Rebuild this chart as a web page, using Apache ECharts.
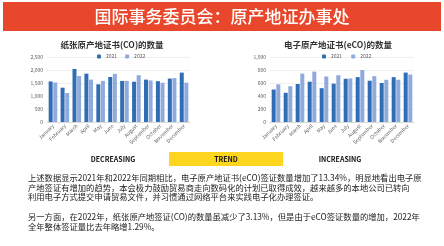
<!DOCTYPE html>
<html>
	<head>
		<meta charset="utf-8" />
		<title>原产地证办事处</title>
		<script src="https://cdn.jsdelivr.net/npm/echarts@6/dist/echarts.min.js"></script>
		<style>
			html, body { margin: 0; padding: 0; background: #fff; }
			#main { width: 444px; height: 246px; }
		</style>
	</head>
	<body>
		<div id="main"></div>
		<script type="text/javascript">
			// 数据
			var months = ['January', 'February', 'March', 'April', 'May', 'June', 'July', 'August', 'September', 'October', 'November', 'December'];
			var co2021 = [1560, 1320, 2040, 1860, 1450, 1730, 1580, 1550, 1630, 1570, 1670, 1900];
			var co2022 = [1520, 1115, 1770, 1630, 1580, 1850, 1580, 1800, 1600, 1510, 1690, 1510];
			var eco2021 = [500, 450, 585, 620, 520, 590, 665, 690, 635, 600, 690, 760];
			var eco2022 = [580, 550, 745, 775, 700, 720, 670, 800, 705, 650, 650, 730];
			var coTicks = [0, 500, 1000, 1500, 2000, 2500];
			var ecoTicks = [0, 200, 400, 600, 800, 1000];

			var para = [
				'上述数据显示2021年和2022年同期相比，电子原产地证书(eCO)签证数量增加了13.34%，明显地看出电子原',
				'产地签证有增加的趋势，本会极力鼓励贸易商走向数码化的计划已取得成效，越来越多的本地公司已转向',
				'利用电子方式提交申请贸易文件，并习惯通过网络平台来实践电子化办理签证。',
				'',
				'另一方面，在2022年，纸张原产地签证(CO)的数量虽减少了3.13%，但是由于eCO签证数量的增加，2022年',
				'全年整体签证量比去年略增1.29%。'
			];

			var font = '"Noto Sans CJK SC", "Noto Sans", sans-serif';
			var c2021 = '#2F6DB5';
			var c2022 = '#8FAADC';

			var myChart = echarts.init(document.getElementById('main'));

			function xAxisOf(idx) {
				return {
					type: 'category', gridIndex: idx, data: months,
					axisTick: {show: false},
					axisLine: {lineStyle: {color: '#d9d9d9'}},
					axisLabel: {rotate: 45, fontSize: 5, color: '#595959', fontFamily: font, margin: 3, interval: 0}
				};
			}
			function yAxisOf(idx, ticks) {
				return {
					type: 'value', gridIndex: idx, min: ticks[0], max: ticks[ticks.length - 1],
					interval: ticks[1] - ticks[0],
					axisLine: {show: false}, axisTick: {show: false},
					splitLine: {lineStyle: {color: '#e6e6e6', width: 0.6}},
					axisLabel: {fontSize: 5, color: '#595959', fontFamily: font, margin: 4}
				};
			}
			function barOf(name, idx, data, color) {
				return {
					name: name, type: 'bar', xAxisIndex: idx, yAxisIndex: idx, data: data,
					barGap: '15%', barCategoryGap: '28%',
					itemStyle: {color: color}
				};
			}

			var graphics = [
				{type: 'rect', shape: {x: 3, y: 2, width: 438, height: 29}, style: {fill: '#E9472B'}},
				{type: 'text', x: 222, y: 17, style: {text: '国际事务委员会：原产地证办事处', fill: '#fff', font: '500 17px ' + font, textAlign: 'center', textVerticalAlign: 'middle'}},
				{type: 'text', x: 113, y: 159, style: {text: 'DECREASING', fill: '#111', font: 'bold 7px ' + font, textAlign: 'center', textVerticalAlign: 'middle'}},
				{type: 'rect', shape: {x: 169, y: 152, width: 114, height: 14}, style: {fill: '#FFD61F'}},
				{type: 'text', x: 226, y: 159, style: {text: 'TREND', fill: '#111', font: 'bold 7px ' + font, textAlign: 'center', textVerticalAlign: 'middle'}},
				{type: 'text', x: 340, y: 159, style: {text: 'INCREASING', fill: '#111', font: 'bold 7px ' + font, textAlign: 'center', textVerticalAlign: 'middle'}}
			];
			var lineY = [178, 188, 197, 207, 217, 227];
			for (var i = 0; i < para.length; i++) {
				if (!para[i]) continue;
				graphics.push({type: 'text', x: 28, y: lineY[i], style: {text: para[i], fill: '#222', font: '8.3px ' + font, textVerticalAlign: 'middle'}});
			}

			var option = {
				backgroundColor: '#fff',
				animation: false,
				title: [
					{text: '纸张原产地证书(CO)的数量', left: 107, top: 36, textAlign: 'center',
					 textStyle: {fontSize: 8.5, fontWeight: 'bold', color: '#333', fontFamily: font}},
					{text: '电子原产地证书(eCO)的数量', left: 333, top: 36, textAlign: 'center',
					 textStyle: {fontSize: 8.5, fontWeight: 'bold', color: '#333', fontFamily: font}}
				],
				legend: [
					{data: ['2021', '2022'], left: 92, top: 49, itemWidth: 4, itemHeight: 4, itemGap: 8,
					 textStyle: {fontSize: 5, color: '#595959', fontFamily: font}},
					{data: ['2021 ', '2022 '], left: 317, top: 49, itemWidth: 4, itemHeight: 4, itemGap: 8,
					 textStyle: {fontSize: 5, color: '#595959', fontFamily: font}}
				],
				grid: [
					{left: 47, top: 57, width: 143, height: 65},
					{left: 270, top: 57, width: 144, height: 65}
				],
				xAxis: [xAxisOf(0), xAxisOf(1)],
				yAxis: [yAxisOf(0, coTicks), yAxisOf(1, ecoTicks)],
				series: [
					barOf('2021', 0, co2021, c2021),
					barOf('2022', 0, co2022, c2022),
					barOf('2021 ', 1, eco2021, c2021),
					barOf('2022 ', 1, eco2022, c2022)
				],
				graphic: graphics
			};

			myChart.setOption(option);
		</script>
	</body>
</html>
